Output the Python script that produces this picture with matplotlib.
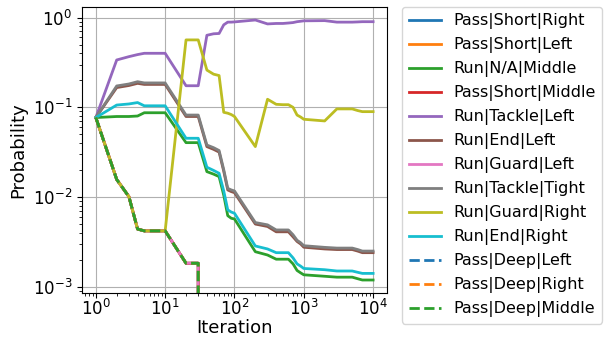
import matplotlib
matplotlib.use("Agg")  # no display in the sandbox
import matplotlib.pyplot as plt


# ── Data ──────────────────────────────────────────────────────────────────

ITERATIONS = [1, 2, 3, 4, 5, 6, 7, 8, 9, 10,
              20, 30, 40, 50, 60, 70, 80, 90, 100,
              200, 300, 400, 500, 600, 700, 800, 900, 1000,
              2000, 3000, 4000, 5000, 6000, 7000, 8000, 9000, 10000]

# the play types that collapse to zero after iteration 30 all share one path
DROP_PATH = [0.0769, 0.0157, 0.0101, 0.0044, 0.0042, 0.0042, 0.0042, 0.0042, 0.0042, 0.0042,
             0.00183, 0.00183, 0, 0, 0, 0, 0, 0, 0,
             0, 0, 0, 0, 0, 0, 0, 0, 0,
             0, 0, 0, 0, 0, 0, 0, 0, 0]

RUN_NA_MIDDLE = [0.0769, 0.079, 0.079, 0.080, 0.087, 0.087, 0.087, 0.087, 0.087, 0.087,
                 0.0404, 0.0404, 0.0192, 0.018, 0.0169, 0.0105, 0.0062, 0.0058, 0.0057,
                 0.00246, 0.00226, 0.00203, 0.00203, 0.00203, 0.0018, 0.00152, 0.00143, 0.00136,
                 0.00131, 0.00128, 0.00128, 0.00128, 0.00123, 0.00119, 0.00119, 0.00119, 0.00119]

RUN_TACKLE_LEFT = [0.0769, 0.337, 0.367, 0.387, 0.40, 0.40, 0.40, 0.40, 0.40, 0.40,
                   0.174, 0.174, 0.635, 0.66, 0.665, 0.83, 0.89, 0.89, 0.895,
                   0.94, 0.85, 0.86, 0.86, 0.87, 0.88, 0.90, 0.91, 0.92,
                   0.925, 0.89, 0.89, 0.89, 0.895, 0.90, 0.90, 0.90, 0.90]

RUN_END_LEFT = [0.0769, 0.166, 0.175, 0.185, 0.180, 0.180, 0.180, 0.180, 0.180, 0.180,
                0.079, 0.079, 0.0365, 0.034, 0.0317, 0.0194, 0.012, 0.0115, 0.0112,
                0.005, 0.0047, 0.0041, 0.0041, 0.0041, 0.0036, 0.0032, 0.003, 0.00276,
                0.00264, 0.0026, 0.0026, 0.0026, 0.0025, 0.0024, 0.0024, 0.0024, 0.0024]

RUN_TACKLE_TIGHT = [0.0769, 0.173, 0.182, 0.193, 0.187, 0.187, 0.187, 0.187, 0.187, 0.187,
                    0.082, 0.082, 0.038, 0.0355, 0.033, 0.0202, 0.0125, 0.012, 0.0117,
                    0.0052, 0.0049, 0.0043, 0.0043, 0.0043, 0.0038, 0.0033, 0.0031, 0.00287,
                    0.00275, 0.0027, 0.0027, 0.0027, 0.0026, 0.0025, 0.0025, 0.0025, 0.0025]

RUN_GUARD_RIGHT = [0.0769, 0.0157, 0.0101, 0.0044, 0.0042, 0.0042, 0.0042, 0.0042, 0.0042, 0.0042,
                   0.564, 0.564, 0.26, 0.234, 0.226, 0.088, 0.086, 0.083, 0.079,
                   0.0365, 0.123, 0.108, 0.107, 0.107, 0.100, 0.082, 0.078, 0.0736,
                   0.0705, 0.096, 0.096, 0.096, 0.092, 0.0895, 0.0895, 0.0895, 0.0895]

RUN_END_RIGHT = [0.0769, 0.106, 0.109, 0.113, 0.104, 0.104, 0.104, 0.104, 0.104, 0.104,
                 0.0452, 0.0452, 0.0215, 0.0198, 0.0184, 0.0117, 0.0072, 0.0068, 0.0066,
                 0.00285, 0.00264, 0.0024, 0.0024, 0.0024, 0.0021, 0.0018, 0.0017, 0.0016,
                 0.00155, 0.0015, 0.0015, 0.0015, 0.00145, 0.00141, 0.00141, 0.00141, 0.00141]

# (label, values, colour, linestyle) in plotting order
SERIES = [
    ("Pass|Short|Right",  DROP_PATH,        "C0", "-"),
    ("Pass|Short|Left",   DROP_PATH,        "C1", "-"),
    ("Run|N/A|Middle",    RUN_NA_MIDDLE,    "C2", "-"),
    ("Pass|Short|Middle", DROP_PATH,        "C3", "-"),
    ("Run|Tackle|Left",   RUN_TACKLE_LEFT,  "C4", "-"),
    ("Run|End|Left",      RUN_END_LEFT,     "C5", "-"),
    ("Run|Guard|Left",    DROP_PATH,        "C6", "-"),
    ("Run|Tackle|Tight",  RUN_TACKLE_TIGHT, "C7", "-"),
    ("Run|Guard|Right",   RUN_GUARD_RIGHT,  "C8", "-"),
    ("Run|End|Right",     RUN_END_RIGHT,    "C9", "-"),
    ("Pass|Deep|Left",    DROP_PATH,        "C0", "--"),
    ("Pass|Deep|Right",   DROP_PATH,        "C1", "--"),
    ("Pass|Deep|Middle",  DROP_PATH,        "C2", "--"),
]


def make_plot(out_path="out.png"):
    fig = plt.figure(figsize=(6.15, 3.38), dpi=100)
    ax = fig.add_axes([0.1333, 0.1331, 0.4959, 0.8462])

    for label, values, color, ls in SERIES:
        ax.plot(ITERATIONS, values, color=color, linestyle=ls, linewidth=2, label=label)

    ax.set_xscale("log")
    ax.set_yscale("log")
    ax.grid(True, which="major", color="#b0b0b0", linewidth=0.8)
    ax.set_xlabel("Iteration", fontsize=13, labelpad=0.5)
    ax.set_ylabel("Probability", fontsize=13)
    ax.tick_params(axis="both", which="major", labelsize=12)
    ax.tick_params(axis="x", which="major", pad=0.5)

    ax.legend(bbox_to_anchor=(1.05, 1), loc="upper left", borderaxespad=0.0,
              fontsize=11.5)

    fig.savefig(out_path, dpi=100)
    plt.close(fig)


if __name__ == "__main__":
    make_plot()
